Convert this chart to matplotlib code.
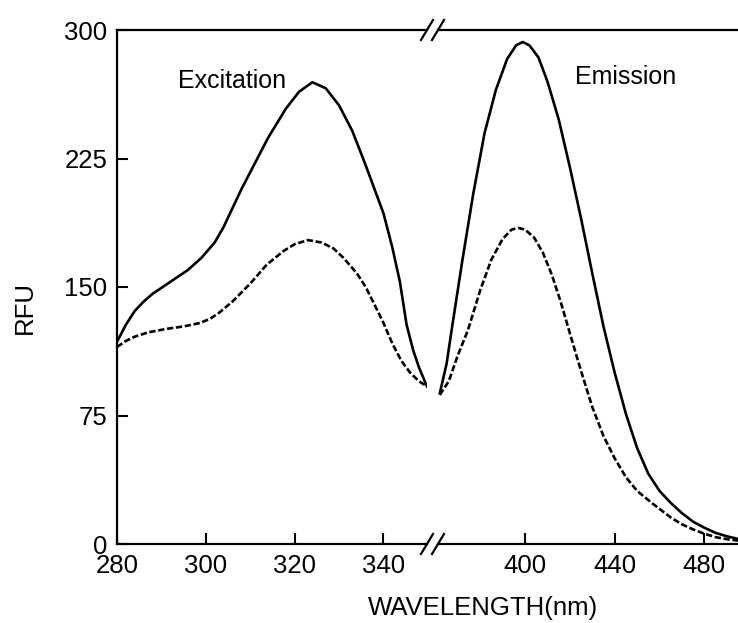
import matplotlib
matplotlib.use('Agg')
import matplotlib.pyplot as plt
import numpy as np

plt.rcParams['font.family'] = ['Liberation Sans', 'DejaVu Sans']

# excitation (left part of the broken axis)
ex_nm = [280, 282, 284, 286, 288, 292, 296, 299, 302, 304, 306, 308, 310, 314, 318,
         321, 324, 327, 330, 333, 336, 340, 342, 343.7, 345.2, 346.7, 348, 349.8]
ex_solid = [118, 128, 136, 141.5, 146, 153, 160, 167, 176, 185, 196, 207, 217, 237, 254,
            264, 269.5, 266, 256, 241, 221, 193, 173, 153, 128, 113, 103, 92]

ex_nm2 = [280, 282, 284, 287, 291, 295, 298.7, 301, 303, 306, 310, 313.7, 317.5, 320,
          323, 326, 328.7, 331, 334, 336, 338.5, 340, 342, 344, 346, 348, 349.8]
ex_dashed = [115, 118.5, 121, 123.5, 125.5, 127, 129, 131.5, 135, 141.5, 152, 163, 171, 175,
             177.4, 176, 172.6, 167, 158, 150, 137, 129, 117, 107, 100, 95, 92]

# emission (right part)
em_nm = [362, 365, 367.3, 372, 377, 382, 387, 392, 396, 399, 402, 406, 410, 415,
         420, 425, 430, 435, 440, 445, 450, 455, 460, 465, 470, 475, 480, 485, 490, 495]
em_solid = [88, 105, 125, 165, 205, 240, 265, 283, 291, 293, 291, 284, 270, 248,
            220, 190, 158, 127, 100, 76, 56, 41, 31, 24, 18, 13, 9.5, 6.5, 4.5, 3]

em_nm2 = [362, 366, 370, 374.6, 380, 385, 390, 394, 397, 400, 404, 408, 412, 416,
          420, 425, 430, 435, 440, 445, 450, 457, 465, 470, 475, 480, 485, 490, 495]
em_dashed = [87, 95, 110, 125, 148, 166, 178, 183.5, 184.5, 183.5, 179, 170, 157, 141,
             123, 101, 80, 63, 50, 39, 31, 23.5, 15.5, 11.5, 8.5, 6, 4, 2.8, 2]

yticks = [0, 75, 150, 225, 300]
xticks_left = [280, 300, 320, 340]
xticks_right = [400, 440, 480]

W, H = 738, 623
fig = plt.figure(figsize=(W / 100, H / 100), dpi=100)

left, bottom, top, brk1, brk2 = 117, 544, 30, 427, 438
ax1 = fig.add_axes([left / W, (H - bottom) / H, (brk1 - left) / W, (bottom - top) / H])
ax2 = fig.add_axes([brk2 / W, (H - bottom) / H, (W - brk2) / W, (bottom - top) / H])

lw = 1.9
dash = (0, (2.4, 1.0))
ax1.plot(ex_nm, ex_solid, color='black', lw=lw)
ax1.plot(ex_nm2, ex_dashed, color='black', lw=lw, linestyle=dash)
ax2.plot(em_nm, em_solid, color='black', lw=lw)
ax2.plot(em_nm2, em_dashed, color='black', lw=lw, linestyle=dash)

ax1.set_xlim(280, 349.8)
ax2.set_xlim(361.2, 495)
for ax in (ax1, ax2):
    ax.set_ylim(0, 300)
    ax.spines['right'].set_visible(False)
    for s in ('top', 'bottom', 'left'):
        ax.spines[s].set_linewidth(1.6)
    ax.tick_params(direction='in', length=8, width=1.5, labelsize=18.5, pad=7)

ax1.set_xticks(xticks_left)
ax1.set_yticks(yticks)
ax2.set_xticks(xticks_right)
ax2.spines['left'].set_visible(False)
ax2.tick_params(axis='y', left=False, labelleft=False)

# break marks
for bx in (brk1, brk2):
    for by in (top, bottom):
        x0, x1 = (bx - 6) / W, (bx + 6) / W
        y0, y1 = (H - by - 10) / H, (H - by + 10) / H
        fig.add_artist(plt.Line2D([x0, x1], [y0, y1], color='black', lw=1.6,
                                  transform=fig.transFigure))

fig.text(178 / W, (H - 81) / H, 'Excitation', fontsize=18, va='center', ha='left')
fig.text(575 / W, (H - 77) / H, 'Emission', fontsize=18, va='center', ha='left')
fig.text(483 / W, (H - 608) / H, 'WAVELENGTH(nm)', fontsize=18.5, va='center', ha='center')
fig.text(25 / W, (H - 307) / H, 'RFU', fontsize=18.5, va='center', ha='center', rotation=90)

fig.savefig('out.png', dpi=100)
